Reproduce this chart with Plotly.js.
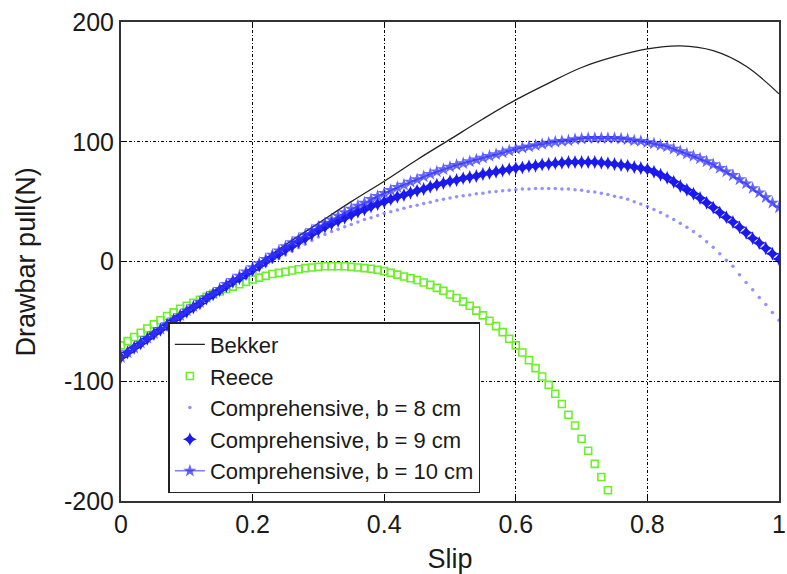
<!DOCTYPE html>
<html>
<head>
<meta charset="utf-8">
<script src="https://cdn.plot.ly/plotly-3.0.1.min.js"></script>
<style>html,body{margin:0;padding:0;background:#fff;}#chart{width:787px;height:574px;}</style>
</head>
<body>
<div id="chart"></div>
<script>
// Slip values
const slipBekker = [0,0.05,0.1,0.15,0.2,0.25,0.3,0.35,0.4,0.45,0.5,0.55,0.6,0.65,0.7,0.75,0.8,0.85,0.9,0.95,1.0];
const bekker = [-80,-61,-42,-23.5,-5,14,32,50,67,85,102,119,135,149,162,171,177.5,180,176,163,140];

const slipReece = [0,0.01,0.02,0.03,0.04,0.05,0.06,0.07,0.08,0.09,0.10,0.11,0.12,0.13,0.14,0.15,0.16,0.17,0.18,0.19,0.20,0.21,0.22,0.23,0.24,0.25,0.26,0.27,0.28,0.29,0.30,0.31,0.32,0.33,0.34,0.35,0.36,0.37,0.38,0.39,0.40,0.41,0.42,0.43,0.44,0.45,0.46,0.47,0.48,0.49,0.50,0.51,0.52,0.53,0.54,0.55,0.56,0.57,0.58,0.59,0.60,0.61,0.62,0.63,0.64,0.65,0.66,0.67,0.68,0.69,0.70,0.71,0.72,0.73,0.74];
const reece = [-70,-66.5,-63,-59.5,-56,-52.5,-49,-45.5,-42.5,-39.5,-37,-34.5,-32,-29.5,-27,-25,-23,-21,-19,-17,-15,-13.5,-12,-10.5,-9.5,-8.5,-7.5,-6.5,-5.5,-5,-4.5,-4,-4,-4,-4,-4.5,-5,-5.5,-6,-7,-8,-9.5,-11,-12.5,-14,-15.5,-17.5,-19.5,-22,-24.5,-27.5,-30.5,-33.5,-37,-41,-45,-49.5,-54,-59,-64.5,-70,-76,-82.5,-89,-96,-103,-110.5,-119,-128,-137,-148,-158,-169,-180,-191];

const slipComp = [0,0.01,0.02,0.03,0.04,0.05,0.06,0.07,0.08,0.09,0.10,0.11,0.12,0.13,0.14,0.15,0.16,0.17,0.18,0.19,0.20,0.21,0.22,0.23,0.24,0.25,0.26,0.27,0.28,0.29,0.30,0.31,0.32,0.33,0.34,0.35,0.36,0.37,0.38,0.39,0.40,0.41,0.42,0.43,0.44,0.45,0.46,0.47,0.48,0.49,0.50,0.51,0.52,0.53,0.54,0.55,0.56,0.57,0.58,0.59,0.60,0.61,0.62,0.63,0.64,0.65,0.66,0.67,0.68,0.69,0.70,0.71,0.72,0.73,0.74,0.75,0.76,0.77,0.78,0.79,0.80,0.81,0.82,0.83,0.84,0.85,0.86,0.87,0.88,0.89,0.90,0.91,0.92,0.93,0.94,0.95,0.96,0.97,0.98,0.99,1.00];
const comp8 = [-80,-76,-72.5,-69,-65,-61.5,-58,-54,-50.5,-47,-43,-39.5,-36,-32.5,-29,-26,-22.5,-19.5,-16,-13,-10,-6.5,-3.5,-0.5,2.5,5.5,8.5,11.5,14.5,17.5,20.5,22.5,25,27,29,31,33,35,36.5,38.5,40,41.5,43,44.5,46,47,48.5,49.5,51,52,53,54,55,55.5,56.5,57,58,58.5,59,59.5,60,60.5,60.5,61,61,61,61,60.5,60.5,60,59.5,58.5,58,57,56,54.5,53.5,52,50,48,46,43.5,41,38,35,32,28.5,25,21,16.5,12,6.5,1,-4,-11,-17.5,-23.5,-30,-36,-42.5,-49];
const comp9 = [-80,-76,-72,-68.5,-64.5,-60.5,-57,-53,-49,-45.5,-42,-38.5,-35,-31,-27.5,-24,-20.5,-17,-14,-10.5,-7,-3.5,0,3.5,6.5,10,13,16.5,19.5,23,26,29,31.5,34,36.5,39,41.5,43.5,46,48,50,52,54,55.5,57.5,59,60.5,62.5,64,65.5,67,68,69.5,70.5,71.5,73,74,75,76,77,78,78.5,79.5,80,81,81.5,82,82.5,83,83,83,83,83,82.5,82,81.5,80.5,80,79,78,77,75,72.5,70,66.5,63,60,56.5,53,49,45,41,37,33,28.5,24,19.5,15.5,11,6.5,2];
const comp10 = [-80,-76,-72,-68,-64,-60,-56.5,-52.5,-48.5,-45,-41,-37.5,-34,-30,-26.5,-23,-19,-15.5,-12,-8.5,-5,-1.5,2,5.5,9,12.5,16,19,22.5,26,29,32,35,38,41,44,46.5,49,52,54.5,57,59.5,62,64,66.5,68.5,71,73,75,77,79,80.5,82,83.5,85,86.5,88,89.5,91,92.5,94,95,96,97,98,99,100,100.5,101,102,102.5,103,103,103,103,103,102.5,102,101,100.5,99.5,98.5,97,96,94,92,90,88,86,83.5,81,78,75,72,68.5,65,61,57.5,53.5,49,45];

const xTickVals = [0,0.2,0.4,0.6,0.8,1];
const xTickText = ["0","0.2","0.4","0.6","0.8","1"];
const yTickVals = [-200,-100,0,100,200];
const yTickText = ["-200","-100","0","100","200"];

const traces = [
  {x: slipBekker, y: bekker, name: 'Bekker', type: 'scatter', mode: 'lines',
   line: {color: '#222', width: 1.3, shape: 'spline'}},
  {x: slipReece, y: reece, name: 'Reece', type: 'scatter', mode: 'markers',
   marker: {symbol: 'square-open', size: 7, color: '#6cf02a', line: {width: 1.6, color: '#6cf02a'}}},
  {x: slipComp, y: comp8, name: 'Comprehensive, b = 8 cm', type: 'scatter', mode: 'markers',
   marker: {symbol: 'circle', size: 3.5, color: 'rgba(110,110,255,0.75)'}},
  {x: slipComp, y: comp9, name: 'Comprehensive, b = 9 cm', type: 'scatter', mode: 'markers',
   marker: {symbol: 'star-diamond', size: 10, color: '#1a1aee'}},
  {x: slipComp, y: comp10, name: 'Comprehensive, b = 10 cm', type: 'scatter', mode: 'lines+markers',
   line: {color: 'rgba(40,40,255,0.6)', width: 1.5},
   marker: {symbol: 'star', size: 10, color: 'rgba(50,50,255,0.75)'}}
];

const gridStyle = {gridcolor: '#000', gridwidth: 1, griddash: '3px,2px,1px,2px'};

const layout = {
  width: 787, height: 574,
  margin: {l: 121, r: 8, t: 22, b: 73},
  paper_bgcolor: '#fff', plot_bgcolor: '#fff',
  font: {family: 'Liberation Sans, Arial, sans-serif', color: '#1a1a1a', size: 22},
  showlegend: true,
  legend: {
    x: 0.072, y: 0.195, xanchor: 'left', yanchor: 'middle',
    bgcolor: '#fff', bordercolor: '#222', borderwidth: 1.5,
    font: {size: 22, family: 'Liberation Sans, Arial, sans-serif', color: '#1a1a1a'},
    tracegroupgap: 0, itemwidth: 30
  },
  xaxis: Object.assign({
    range: [0, 1], tickvals: xTickVals, ticktext: xTickText,
    showline: true, linecolor: '#333', linewidth: 2, mirror: 'ticks',
    ticks: 'inside', ticklen: 6, tickcolor: '#000', tickwidth: 1.3,
    tickfont: {size: 25}, zeroline: false,
    title: {text: 'Slip', font: {size: 27}, standoff: 14}
  }, gridStyle),
  yaxis: Object.assign({
    range: [-200, 200], tickvals: yTickVals, ticktext: yTickText,
    showline: true, linecolor: '#333', linewidth: 2, mirror: 'ticks',
    ticks: 'inside', ticklen: 6, tickcolor: '#000', tickwidth: 1.3,
    tickfont: {size: 25}, zeroline: false
  }, gridStyle),
  annotations: [
    {text: 'Drawbar pull(N)', xref: 'paper', yref: 'paper', x: -0.1445, y: 0.5,
     xanchor: 'center', yanchor: 'middle', textangle: -90, showarrow: false,
     font: {size: 27, family: 'Liberation Sans, Arial, sans-serif', color: '#1a1a1a'}}
  ]
};

Plotly.newPlot('chart', traces, layout, {displayModeBar: false, staticPlot: true});
</script>
</body>
</html>
